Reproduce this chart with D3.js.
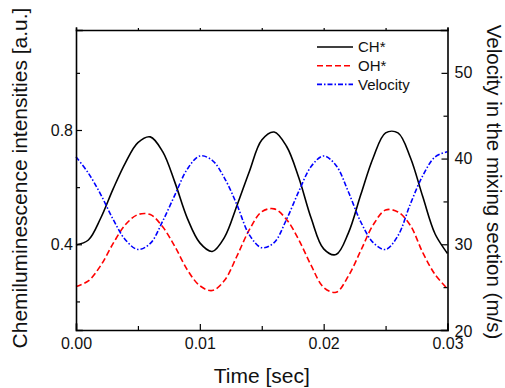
<!doctype html>
<html lang="en">
<head>
<meta charset="utf-8">
<title>Chemiluminescence vs velocity</title>
<style>
  body { margin: 0; background: #fff; }
  svg { display: block; font-family: "Liberation Sans", Arial, sans-serif; }
  .axis path, .axis line { stroke: #000; }
  .axis path { stroke-width: 1.6px; }
  .axis line { stroke-width: 1.2px; }
  .axis text { font-size: 16px; fill: #111; }
  .title { font-size: 21px; fill: #111; }
  .legend text { font-size: 15px; fill: #111; }
</style>
</head>
<body>
<svg id="chart" width="505" height="388"></svg>
<script src="https://cdn.jsdelivr.net/npm/d3@7"></script>
<script>
// time samples, seconds (every 1 ms)
const time = [0.000, 0.001, 0.002, 0.003, 0.004, 0.005, 0.006, 0.007, 0.008, 0.009,
              0.010, 0.011, 0.012, 0.013, 0.014, 0.015, 0.016, 0.017, 0.018, 0.019,
              0.020, 0.021, 0.022, 0.023, 0.024, 0.025, 0.026, 0.027, 0.028, 0.029, 0.030];

// CH* chemiluminescence, a.u. (left axis)
const chStar = [0.398, 0.415, 0.492, 0.594, 0.686, 0.756, 0.776, 0.724, 0.615, 0.490,
                0.405, 0.375, 0.425, 0.536, 0.655, 0.765, 0.793, 0.743, 0.632, 0.490,
                0.384, 0.364, 0.440, 0.574, 0.703, 0.790, 0.790, 0.704, 0.567, 0.436, 0.368];

// OH* chemiluminescence, a.u. (left axis)
const ohStar = [0.252, 0.272, 0.326, 0.403, 0.469, 0.504, 0.504, 0.461, 0.391, 0.310,
                0.255, 0.238, 0.274, 0.359, 0.451, 0.514, 0.524, 0.487, 0.415, 0.325,
                0.249, 0.232, 0.289, 0.378, 0.468, 0.520, 0.513, 0.466, 0.371, 0.294, 0.244];

// velocity in the mixing section, m/s (right axis)
const velocity = [40.2, 38.3, 35.8, 32.9, 30.5, 29.4, 30.1, 32.7, 35.8, 38.8,
                  40.3, 39.8, 37.7, 34.6, 31.1, 29.6, 30.2, 32.9, 36.2, 39.1,
                  40.3, 39.2, 36.1, 32.6, 30.2, 29.4, 31.0, 34.7, 38.0, 40.2, 40.8];

const xMajor = [0, 0.01, 0.02, 0.03];
const xMinor = [0.005, 0.015, 0.025];
const leftMajor = [0.4, 0.8];
const leftMinor = [0.2, 0.6, 1.0];
const rightMajor = [20, 30, 40, 50];
const rightMinor = [25, 35, 45];

const seriesNames = ["CH*", "OH*", "Velocity"];

const svg = d3.select("#chart");
const pL = 76, pR = 447.5, pT = 30, pB = 330;

const x = d3.scaleLinear().domain([0, 0.03]).range([pL, pR]);
const yL = d3.scaleLinear().domain([0.1, 1.15]).range([pB, pT]);
const yR = d3.scaleLinear().domain([20, 55]).range([pB, pT]);

const styles = [
  { color: "#000", dash: null },
  { color: "#ff0000", dash: "6,3" },
  { color: "#0000ff", dash: "5,2,1.5,2" }
];

// curves
const curve = d3.curveCatmullRom.alpha(0.5);
const lineL = d3.line().x((d, i) => x(time[i])).y(d => yL(d)).curve(curve);
const lineR = d3.line().x((d, i) => x(time[i])).y(d => yR(d)).curve(curve);

const plots = [lineL(chStar), lineL(ohStar), lineR(velocity)];
plots.forEach((p, i) => {
  svg.append("path").attr("d", p)
    .attr("fill", "none")
    .attr("stroke", styles[i].color)
    .attr("stroke-width", 1.6)
    .attr("stroke-dasharray", styles[i].dash);
});

// axes, ticks pointing inward
const fmtX = d3.format(".2f");
svg.append("g").attr("class", "axis").attr("transform", `translate(0,${pB})`)
  .call(d3.axisBottom(x).tickValues(xMajor).tickSize(-6).tickPadding(8).tickFormat(fmtX));
svg.append("g").attr("class", "axis").attr("transform", `translate(0,${pB})`)
  .call(d3.axisBottom(x).tickValues(xMinor).tickSize(-4).tickFormat(""))
  .select(".domain").remove();

svg.append("g").attr("class", "axis").attr("transform", `translate(0,${pT})`)
  .call(d3.axisTop(x).tickValues(xMajor.concat(xMinor)).tickSize(2).tickFormat(""));

svg.append("g").attr("class", "axis").attr("transform", `translate(${pL},0)`)
  .call(d3.axisLeft(yL).tickValues(leftMajor).tickSize(-6).tickPadding(3).tickFormat(d3.format(".1f")));
svg.append("g").attr("class", "axis").attr("transform", `translate(${pL},0)`)
  .call(d3.axisLeft(yL).tickValues(leftMinor).tickSize(-4).tickFormat(""))
  .select(".domain").remove();

const rAxis = svg.append("g").attr("class", "axis").attr("transform", `translate(${pR},0)`)
  .call(d3.axisRight(yR).tickValues(rightMajor).tickSize(-6).tickPadding(7).tickFormat(d3.format("d")));
rAxis.selectAll(".tick text").filter(d => d === 20).attr("dy", "0.4em");
svg.append("g").attr("class", "axis").attr("transform", `translate(${pR},0)`)
  .call(d3.axisRight(yR).tickValues(rightMinor).tickSize(-4).tickFormat(""))
  .select(".domain").remove();

svg.selectAll(".domain").attr("stroke-linecap", "square");

// titles
svg.append("text").attr("class", "title")
  .attr("x", (pL + pR) / 2).attr("y", 383)
  .attr("text-anchor", "middle").text("Time [sec]");
svg.append("text").attr("class", "title")
  .attr("transform", `translate(27,${(pT + pB) / 2 - 2}) rotate(-90)`)
  .attr("text-anchor", "middle").text("Chemiluminescence intensities [a.u.]");
svg.append("text").attr("class", "title")
  .style("font-size", "20.5px")
  .attr("transform", `translate(487,${(pT + pB) / 2 + 2}) rotate(90)`)
  .attr("text-anchor", "middle").text("Velocity in the mixing section (m/s)");

// legend
const lg = svg.append("g").attr("class", "legend");
seriesNames.forEach((name, i) => {
  const yy = 47 + i * 18.7;
  lg.append("line").attr("x1", 317).attr("x2", 353).attr("y1", yy).attr("y2", yy)
    .attr("stroke", styles[i].color).attr("stroke-width", 1.6)
    .attr("stroke-dasharray", styles[i].dash);
  lg.append("text").attr("x", 358).attr("y", yy).attr("dy", "0.36em").text(name);
});
</script>
</body>
</html>
